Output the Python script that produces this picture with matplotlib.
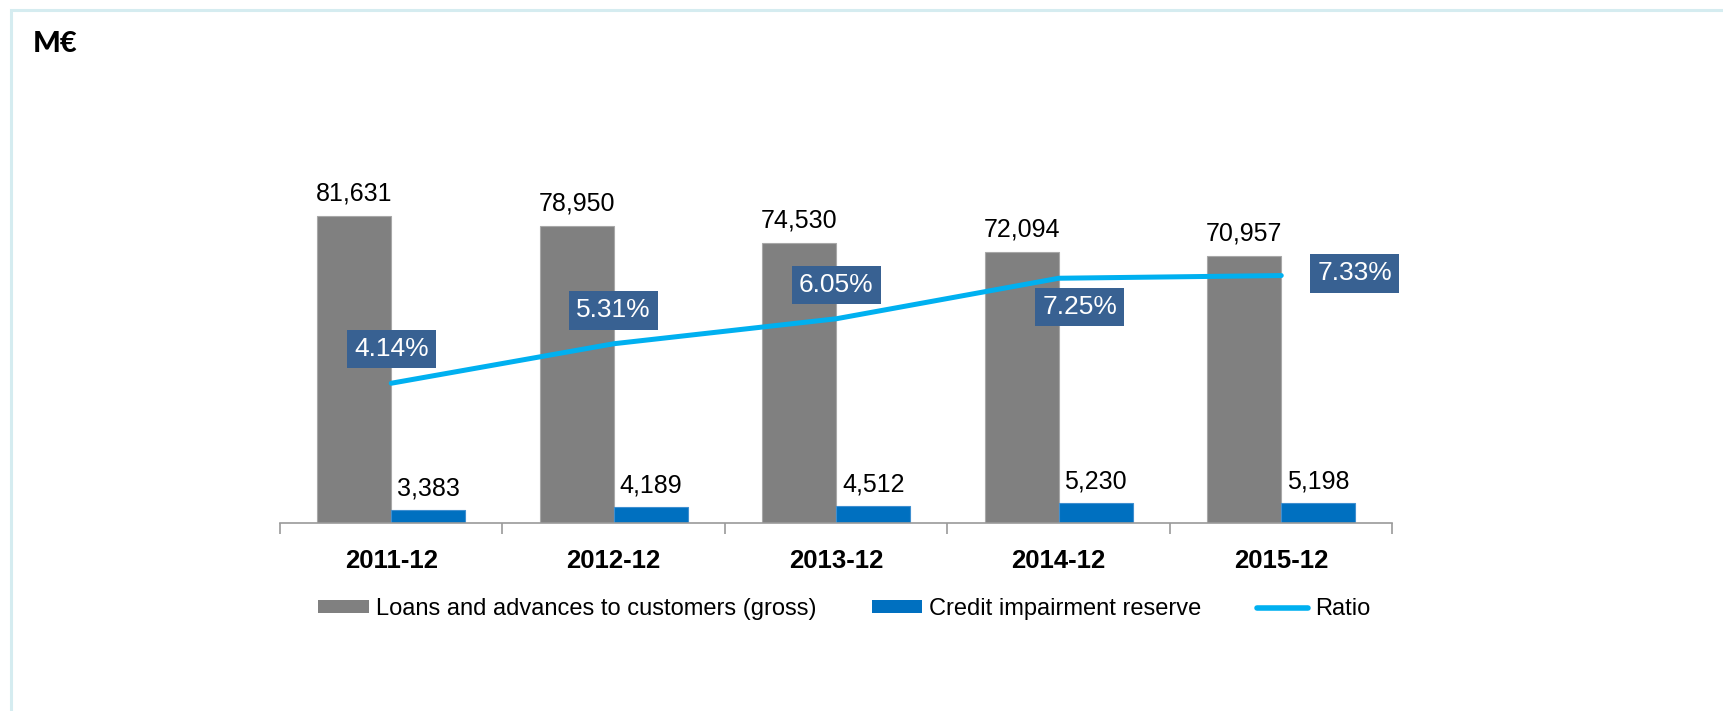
import matplotlib
matplotlib.use("Agg")
import matplotlib.pyplot as plt
from matplotlib.patches import Patch, Rectangle
from matplotlib.lines import Line2D
import numpy as np

# ---- data -------------------------------------------------------------
periods = ["2011-12", "2012-12", "2013-12", "2014-12", "2015-12"]
loans_gross = [81631, 78950, 74530, 72094, 70957]
impairment_reserve = [3383, 4189, 4512, 5230, 5198]
ratio_pct = [4.14, 5.31, 6.05, 7.25, 7.33]

# ---- styling ----------------------------------------------------------
GRAY = "#808080"
BLUE = "#0070C0"
CYAN = "#00B0F0"
BOX = "#386192"
FRAME = "#D5ECF0"

plt.rcParams["font.family"] = ["Liberation Sans", "DejaVu Sans"]

W, H = 1724, 711
fig = plt.figure(figsize=(W / 100, H / 100), dpi=100)
fig.patch.set_facecolor("white")

# light frame around the panel (left and top edges visible)
fig.add_artist(Rectangle((11 / W, -0.05), 1.2, 1 - 10 / H + 0.05,
                         transform=fig.transFigure, fill=False,
                         edgecolor=FRAME, linewidth=2.2))

fig.text(33 / W, 1 - 52 / H, "M€", fontsize=21, fontweight=900,
         family=["Lato", "DejaVu Sans"], va="baseline", ha="left")

# axes geometry
ax_left, ax_right = 280 / W, 1392.5 / W
ax_bottom, ax_top = 1 - 523 / H, 1 - 100 / H
ax = fig.add_axes([ax_left, ax_bottom, ax_right - ax_left, ax_top - ax_bottom])
ax2 = ax.twinx()

x = np.arange(len(periods))
bw = 1 / 3

ax.bar(x - bw, loans_gross, width=bw, align="edge", color=GRAY,
       edgecolor="#A8A8A8", linewidth=0.8, zorder=2)
ax.bar(x, impairment_reserve, width=bw, align="edge", color=BLUE,
       edgecolor="#3F8FD0", linewidth=0.8, zorder=2)

ax.set_xlim(-0.5, len(periods) - 0.5)
ax.set_ylim(0, 112500)

# value labels above the bars
for xi, v in zip(x, loans_gross):
    ax.annotate(f"{v:,}", (xi - bw / 2, v), xytext=(0, 11),
                textcoords="offset points", ha="center", va="baseline",
                fontsize=18, color="black")
for xi, v in zip(x, impairment_reserve):
    ax.annotate(f"{v:,}", (xi + bw / 2, v), xytext=(0, 10.5),
                textcoords="offset points", ha="center", va="baseline",
                fontsize=18, color="black")

# ratio line on the secondary axis
ax2.plot(x, ratio_pct, color=CYAN, linewidth=3.6, solid_capstyle="round",
         zorder=3)
ax2.set_ylim(0, 12.53)

label_offsets = [(0, 24.5), (0, 24), (0, 24.5), (15, -20.5), (53, 1.5)]
for xi, v, (dx, dy) in zip(x, ratio_pct, label_offsets):
    ax2.annotate(f"{v:.2f}%", (xi, v), xytext=(dx, dy),
                 textcoords="offset points", ha="center", va="center",
                 fontsize=19, color="white",
                 bbox=dict(boxstyle="square,pad=0.27", facecolor=BOX,
                           edgecolor="none"))

# axes cosmetics
for a in (ax, ax2):
    for side in ("top", "right", "left"):
        a.spines[side].set_visible(False)
    a.set_yticks([])
ax2.spines["bottom"].set_visible(False)
ax.spines["bottom"].set_color("#9A9A9A")
ax.spines["bottom"].set_linewidth(1.2)

ax.set_xticks(x)
ax.set_xticklabels(periods, fontsize=18.5, fontweight="bold")
ax.tick_params(axis="x", which="major", length=0, pad=19)
ax.set_xticks(np.arange(-0.5, len(periods)), minor=True)
ax.tick_params(axis="x", which="minor", length=8, width=1.2,
               color="#9A9A9A")

# legend
handles = [
    Patch(facecolor=GRAY, edgecolor="none",
          label="Loans and advances to customers (gross)"),
    Patch(facecolor=BLUE, edgecolor="none",
          label="Credit impairment reserve"),
    Line2D([0], [0], color=CYAN, linewidth=4, solid_capstyle="round",
           label="Ratio"),
]
fig.legend(handles=handles, loc="center", ncol=3, frameon=False,
           bbox_to_anchor=(844 / W, 1 - 609 / H), fontsize=17,
           handlelength=2.15, handleheight=0.47, handletextpad=0.3,
           columnspacing=2.35, borderaxespad=0)

fig.savefig("out.png", dpi=100, facecolor="white")
